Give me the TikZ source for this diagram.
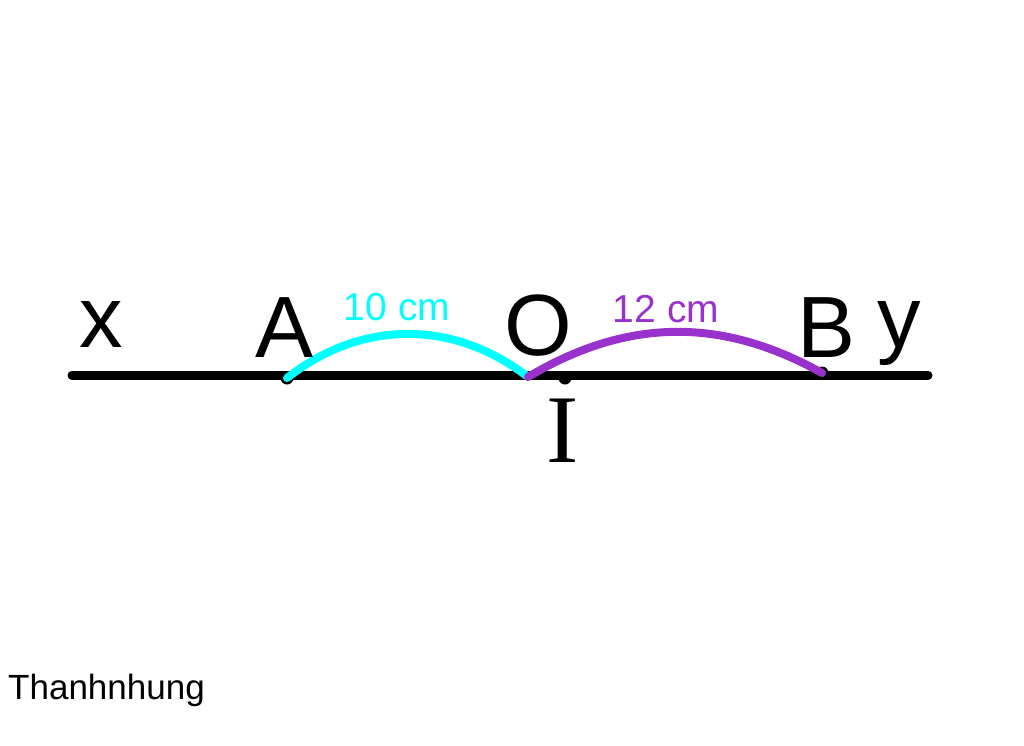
\documentclass[tikz,border=0pt]{standalone}
\usepackage{fontspec}
\setmainfont{Liberation Sans}
\newfontfamily\serifI{Liberation Serif}
\definecolor{arcA}{RGB}{0,255,255}
\definecolor{arcB}{RGB}{153,50,204}
\begin{document}
\begin{tikzpicture}[x=1pt,y=-1pt,
  lbl/.style={font=\fontsize{87}{87}\selectfont, anchor=base, inner sep=0pt},
  len/.style={font=\fontsize{39}{39}\selectfont, anchor=base, inner sep=0pt},
  pt/.style={circle, fill=black, inner sep=0pt, minimum size=13pt}]
\useasboundingbox (0,0) rectangle (1024,745);
\coordinate (X) at (72,375);
\coordinate (Y) at (928,375);
\draw[line width=9pt, line cap=round] (X) -- (Y);
\node[pt] (A) at (287,378) {};
\node[pt] (I) at (565,378) {};
\node[pt] (B) at (822,373) {};
\coordinate (O) at (528,377);
\draw[arcA, line width=8pt, line cap=round] (A.center) to[bend left=38] (O);
\draw[arcB, line width=8pt, line cap=round] (O) to[bend left=30] (B.center);
\node[lbl] (lx) at (101,347) {x};
\node[lbl] (lA) at (285,357) {A};
\node[lbl] (lO) at (538,355) {O};
\node[lbl] (lB) at (827,357) {B};
\node[lbl] (ly) at (899,347) {y};
\node[font=\serifI\fontsize{97}{97}\selectfont, anchor=base, inner sep=0pt] (lI) at (563,462) {I};
\node[len, text=arcA] (l10) at (397,320) {10 cm};
\node[len, text=arcB] (l12) at (666,322) {12 cm};
\node[font=\fontsize{35}{35}\selectfont, anchor=base west, inner sep=0pt] (sig) at (8,699) {Thanhnhung};
\end{tikzpicture}
\end{document}
